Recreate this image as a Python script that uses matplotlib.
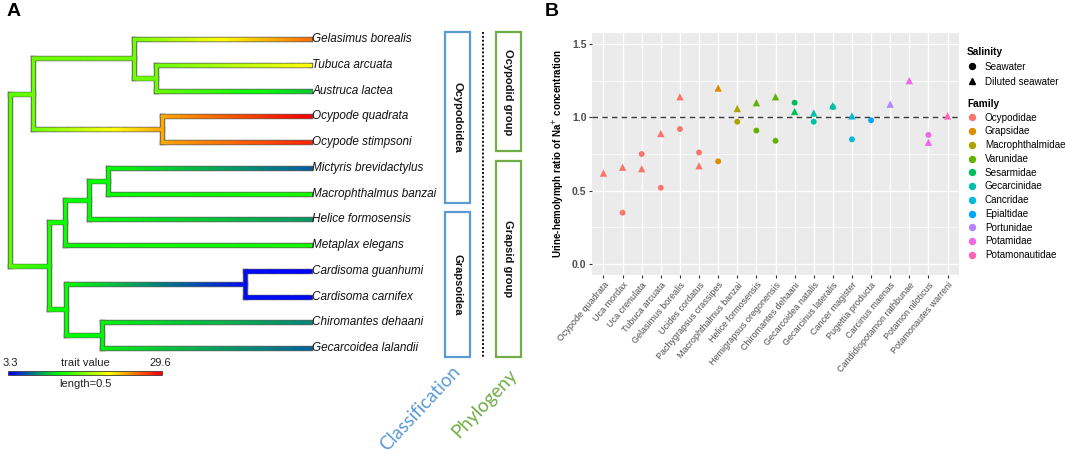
import numpy as np
import matplotlib
matplotlib.use("Agg")
import matplotlib.pyplot as plt
from matplotlib.collections import LineCollection
from matplotlib.colors import LinearSegmentedColormap
from matplotlib.patches import Rectangle
from matplotlib.lines import Line2D

plt.rcParams['font.family'] = ['Liberation Sans', 'DejaVu Sans']

W, H, DPI = 1065, 453, 100

# ---------------- panel A: tree with mapped trait ----------------
tip_names = ["Gelasimus borealis", "Tubuca arcuata", "Austruca lactea",
             "Ocypode quadrata", "Ocypode stimpsoni", "Mictyris brevidactylus",
             "Macrophthalmus banzai", "Helice formosensis", "Metaplax elegans",
             "Cardisoma guanhumi", "Cardisoma carnifex", "Chiromantes dehaani",
             "Gecarcoidea lalandii"]
tip_parent = ["gel", "tubaus", "tubaus", "ocypode", "ocypode", "c", "c", "b", "a",
              "card", "card", "chigec", "chigec"]
tip_values = [25.7, 20.8, 10.4, 29.6, 28.3, 6.5, 12.8, 8.6, 12.8, 3.3, 3.6, 8.0, 6.7]

node_names = ["root", "ocy", "gel", "tubaus", "ocypode", "grap", "a", "b", "c",
              "d", "card", "chigec"]
node_parent = [None, "root", "ocy", "gel", "ocy", "root", "grap", "a", "b",
               "grap", "d", "d"]
node_depth = [0.0, 0.077, 0.413, 0.487, 0.507, 0.13, 0.183, 0.263, 0.327,
              0.187, 0.783, 0.307]
node_values = [15.1, 15.7, 15.9, 15.7, 23.8, 13.0, 12.5, 12.2, 12.2, 12.2, 3.8, 11.7]
tip_depth = 1.0

trait_min, trait_max = 3.3, 29.6
scale_len = 0.5

class_groups = [("Ocypodoidea", 0, 6), ("Grapsoidea", 7, 12)]
phylo_groups = [("Ocypodid group", 0, 4), ("Grapsid group", 5, 12)]

# ---------------- panel B: urine/hemolymph ratio ----------------
species = ["Ocypode quadrata", "Uca mordax", "Uca crenulata", "Tubuca arcuata",
           "Gelasimus borealis", "Ucides cordatus", "Pachygrapsus crassipes",
           "Macrophthalmus banzai", "Helice formosensis", "Hemigrapsus oregonensis",
           "Chiromantes dehaani", "Gecarcoidea natalis", "Gecarcinus lateralis",
           "Cancer magister", "Pugettia producta", "Carcinus maenas",
           "Candidiopotamon rathbunae", "Potamon niloticus", "Potamonautes warreni"]
species_family = ["Ocypodidae"] * 6 + ["Grapsidae", "Macrophthalmidae", "Varunidae",
                  "Varunidae", "Sesarmidae", "Gecarcinidae", "Gecarcinidae",
                  "Cancridae", "Epialtidae", "Portunidae", "Potamidae", "Potamidae",
                  "Potamonautidae"]
seawater = [np.nan, 0.35, 0.75, 0.52, 0.92, 0.76, 0.70, 0.97, 0.91, 0.84, 1.10,
            0.97, 1.07, 0.85, 0.98, np.nan, np.nan, 0.88, np.nan]
diluted = [0.62, 0.66, 0.65, 0.89, 1.14, 0.67, 1.20, 1.06, 1.10, 1.14, 1.04,
           1.03, 1.08, 1.01, np.nan, 1.09, 1.25, 0.83, 1.01]
families = ["Ocypodidae", "Grapsidae", "Macrophthalmidae", "Varunidae", "Sesarmidae",
            "Gecarcinidae", "Cancridae", "Epialtidae", "Portunidae", "Potamidae",
            "Potamonautidae"]
family_colors = ["#F8766D", "#DB8E00", "#AEA200", "#64B200", "#00BD5C", "#00C1A7",
                 "#00BADE", "#00A6FF", "#B385FF", "#EF67EB", "#FF63B6"]

fig = plt.figure(figsize=(W / DPI, H / DPI), dpi=DPI)

# tree axes spans the whole figure; tips at pixel 310, root at 10, tip rows 25.75 px
axt = fig.add_axes([0, 0, 1, 1])
axt.set_xlim(-10 / 300, (W - 10) / 300)
axt.set_ylim((H - 39) / 25.75, -39 / 25.75)
axt.axis("off")

cmap = LinearSegmentedColormap.from_list("trait", ["#0000FF", "#00FF00", "#FFFF00", "#FF0000"])
norm = plt.Normalize(trait_min, trait_max)

depth = dict(zip(node_names, node_depth))
value = dict(zip(node_names, node_values))
children = {n: [] for n in node_names}
for k, p in enumerate(tip_parent):
    children[p].append(("tip", k))
for n, p in zip(node_names, node_parent):
    if p is not None:
        children[p].append(("node", n))


def ypos(item):
    kind, key = item
    if kind == "tip":
        return float(key)
    ys = [ypos(c) for c in children[key]]
    return (min(ys) + max(ys)) / 2


def item_depth(item):
    return tip_depth if item[0] == "tip" else depth[item[1]]


def item_value(item):
    return tip_values[item[1]] if item[0] == "tip" else value[item[1]]


out_segs, h_segs, h_vals, v_segs, v_vals = [], [], [], [], []
for n in node_names:
    kids = children[n]
    ys = [ypos(c) for c in kids]
    x0 = depth[n]
    # vertical connector at the node
    out_segs.append([(x0, min(ys)), (x0, max(ys))])
    v_segs.append([(x0, min(ys)), (x0, max(ys))])
    v_vals.append(value[n])
    # horizontal branches, colour graded along the edge
    for c, yc in zip(kids, ys):
        x1 = item_depth(c)
        out_segs.append([(x0, yc), (x1, yc)])
        xs = np.linspace(x0, x1, 61)
        vs = np.linspace(value[n], item_value(c), 61)
        for j in range(60):
            h_segs.append([(xs[j], yc), (xs[j + 1], yc)])
            h_vals.append((vs[j] + vs[j + 1]) / 2)

axt.add_collection(LineCollection(out_segs, colors="#5f5f5f", linewidths=3.9,
                                  capstyle="projecting", zorder=2))
lc = LineCollection(h_segs, cmap=cmap, norm=norm, linewidths=2.5,
                    capstyle="projecting", zorder=3)
lc.set_array(np.array(h_vals))
axt.add_collection(lc)
vc = LineCollection(v_segs, cmap=cmap, norm=norm, linewidths=2.5,
                    capstyle="projecting", zorder=4)
vc.set_array(np.array(v_vals))
axt.add_collection(vc)

for k, name in enumerate(tip_names):
    axt.text(tip_depth + 0.008, k, name, fontsize=8.5, style="italic",
             ha="left", va="center", color="#111111")

# colour bar / scale bar
ycb = 12.97
xb = np.linspace(0, scale_len, 101)
vb = np.linspace(trait_min, trait_max, 100)
axt.plot([0, scale_len], [ycb, ycb], color="#333333", lw=3.4, solid_capstyle="projecting", zorder=2)
cb = LineCollection([[(xb[j], ycb), (xb[j + 1], ycb)] for j in range(100)],
                    cmap=cmap, norm=norm, linewidths=2.2, capstyle="projecting", zorder=3)
cb.set_array(vb)
axt.add_collection(cb)
axt.text(0, ycb - 0.38, f"{trait_min}", fontsize=8, ha="center", va="center", color="#222222")
axt.text(scale_len, ycb - 0.38, f"{trait_max}", fontsize=8, ha="center", va="center", color="#222222")
axt.text(scale_len / 2, ycb - 0.38, "trait value", fontsize=8, ha="center", va="center", color="#222222")
axt.text(scale_len / 2, ycb + 0.44, f"length={scale_len}", fontsize=8, ha="center", va="center",
         color="#222222")

# classification / phylogeny boxes
blue, green = "#5B9BD5", "#70AD47"
for (label, a, b), x0, col in [(g, 1.45, blue) for g in class_groups] + \
                              [(g, 1.62, green) for g in phylo_groups]:
    top, bot = a - 0.27, b + 0.36
    axt.add_patch(Rectangle((x0, top), 0.083, bot - top, fill=False, ec=col, lw=1.6, zorder=3))
    axt.text(x0 + 0.0415, (top + bot) / 2, label, rotation=270, fontsize=8, fontweight="bold",
             ha="center", va="center", color="#111111")
axt.plot([1.577, 1.577], [-0.27, 12.36], color="#111111", lw=1.4, ls=(0, (1, 1)))

fig.text(420 / W, 1 - 408 / H, "Classification", rotation=47, fontsize=13.5,
         family="Lato", color=blue, ha="center", va="center")
fig.text(485 / W, 1 - 404 / H, "Phylogeny", rotation=47, fontsize=13.5,
         family="Lato", color=green, ha="center", va="center")

fig.text(7 / W, 1 - 12 / H, "A", fontsize=14, fontweight="bold", ha="left", va="center")
fig.text(545 / W, 1 - 12 / H, "B", fontsize=14, fontweight="bold", ha="left", va="center")

# ---------------- panel B ----------------
axb = fig.add_axes([592 / W, 1 - 275 / H, 367 / W, 242 / H])
axb.set_facecolor("#EBEBEB")
xpos = np.arange(1, len(species) + 1)
fam_color = dict(zip(families, family_colors))
cols = [fam_color[f] for f in species_family]
axb.axhline(1.0, color="#3a3a3a", lw=1.0, ls=(0, (4, 3)), zorder=2)
axb.scatter(xpos, seawater, marker="o", s=18, c=cols, linewidths=0, zorder=3)
axb.scatter(xpos, diluted, marker="^", s=28, c=cols, linewidths=0, zorder=3)
axb.set_xlim(0.4, len(species) + 0.6)
axb.set_ylim(-0.075, 1.575)
axb.set_yticks([0.0, 0.5, 1.0, 1.5])
axb.set_yticklabels(["0.0", "0.5", "1.0", "1.5"], fontweight="bold")
axb.set_yticks([0.25, 0.75, 1.25], minor=True)
axb.set_xticks(xpos)
axb.set_xticklabels(species, rotation=50, ha="right", va="top", rotation_mode="anchor",
                    fontsize=6.5, color="#4D4D4D")
axb.tick_params(axis="y", labelsize=7.5, labelcolor="#4D4D4D")
axb.tick_params(which="major", length=2.5, width=0.8, color="#333333", pad=1.5)
axb.tick_params(which="minor", length=0)
axb.grid(which="major", color="white", lw=1.0)
axb.grid(which="minor", axis="y", color="white", lw=0.5)
axb.set_axisbelow(True)
for s in axb.spines.values():
    s.set_visible(False)
axb.set_ylabel("Urine-hemolymph ratio of Na$^{+}$ concentration", fontsize=7,
               fontweight="bold", labelpad=4)

leg_kw = dict(loc="upper left", frameon=False, fontsize=7.1,
              title_fontproperties={"weight": "bold", "size": 7.3},
              alignment="left", borderpad=0, handlelength=1.0, handletextpad=0.8,
              borderaxespad=0)
sal_handles = [Line2D([], [], marker="o", ls="", color="black", markersize=4.3),
               Line2D([], [], marker="^", ls="", color="black", markersize=5)]
fig.legend(sal_handles, ["Seawater", "Diluted seawater"], title="Salinity",
           bbox_to_anchor=(967 / W, 1 - 47 / H), labelspacing=0.5, **leg_kw)
fam_handles = [Line2D([], [], marker="o", ls="", color=c, markersize=4.3) for c in family_colors]
fig.legend(fam_handles, families, title="Family",
           bbox_to_anchor=(967 / W, 1 - 99 / H), labelspacing=0.38, **leg_kw)

fig.savefig("out.png", dpi=DPI)
